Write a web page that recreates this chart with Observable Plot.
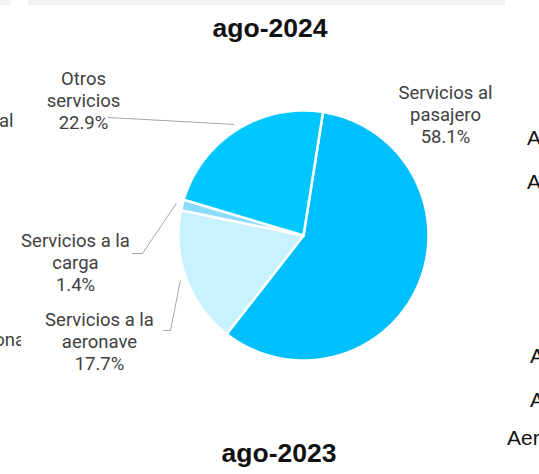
<!DOCTYPE html>
<html><head><meta charset="utf-8">
<script src="https://cdn.jsdelivr.net/npm/d3@7"></script>
<script src="https://cdn.jsdelivr.net/npm/@observablehq/plot@0.6"></script>
<style>
html,body{margin:0;padding:0;background:#fff;}
#page{position:relative;width:539px;height:474px;overflow:hidden;font-family:Roboto,sans-serif;}
#page svg{position:absolute;left:0;top:0;}
.abs{position:absolute;white-space:nowrap;}
.title{font-family:"Liberation Sans",Arial,sans-serif;font-weight:bold;color:#111;line-height:1;transform:translateX(-50%);}
.frag{font-size:18.5px;line-height:22px;color:#404040;}
.fragA{font-family:"Liberation Sans",Arial,sans-serif;font-size:21px;line-height:22px;color:#111;}
.bar{position:absolute;top:0;height:5px;background:#f2f2f2;}
</style></head><body><div id="page"></div>
<script>
// ---- data ----
const categories = ["Servicios al pasajero", "Servicios a la aeronave", "Servicios a la carga", "Otros servicios"];
const labelNames = ["Servicios al\npasajero", "Servicios a la\naeronave", "Servicios a la\ncarga", "Otros\nservicios"];
const shares = [58.1, 17.7, 1.4, 22.9];
const colors = ["#00BFFF", "#C8F2FF", "#8ADCFF", "#00C8FF"];
const chartTitle = "ago-2024";
const nextChartTitle = "ago-2023";

// ---- layout (pixels) ----
const W = 539, H = 474;
const cx = 303, cy = 235, R = 125;
const startDeg = 9;
const labelPx = {
  "Servicios al pasajero": [445, 113],
  "Servicios a la aeronave": [99, 340],
  "Servicios a la carga": [75, 261],
  "Otros servicios": [83, 99]
};
const leaderPx = {
  "Servicios a la aeronave": [[170, 330], [163, 330]],
  "Servicios a la carga": [[142, 253], [132, 253]],
  "Otros servicios": [[108, 117]]
};
const ux = px => (px - cx) / R;
const uy = py => (cy - py) / R;

const rows = categories.map((c, i) => ({name: c, label: labelNames[i], share: shares[i]}));
const a0 = startDeg * Math.PI / 180;
const arcs = d3.pie().sort(null).value(d => d.share).startAngle(a0).endAngle(a0 + 2 * Math.PI)(rows);

const polys = [];
for (const a of arcs) {
  const name = a.data.name;
  polys.push({name, x: 0, y: 0});
  const n = Math.max(2, Math.ceil((a.endAngle - a.startAngle) / 0.01));
  for (let k = 0; k <= n; k++) {
    const t = a.startAngle + (a.endAngle - a.startAngle) * k / n;
    polys.push({name, x: Math.sin(t), y: Math.cos(t)});
  }
}

const leaders = [];
for (const a of arcs) {
  const name = a.data.name;
  if (!leaderPx[name]) continue;
  const m = (a.startAngle + a.endAngle) / 2;
  leaders.push({name, x: 1.05 * Math.sin(m), y: 1.05 * Math.cos(m)});
  for (const [px, py] of leaderPx[name]) leaders.push({name, x: ux(px), y: uy(py)});
}

const labels = arcs.map(a => ({
  text: `${a.data.label}\n${a.data.share.toFixed(1)}%`,
  x: ux(labelPx[a.data.name][0]),
  y: uy(labelPx[a.data.name][1])
}));

const chart = Plot.plot({
  width: W, height: H,
  margin: 0,
  style: {fontFamily: "Roboto, sans-serif", background: "transparent", overflow: "visible"},
  x: {domain: [ux(0), ux(W)], axis: null},
  y: {domain: [uy(H), uy(0)], axis: null},
  color: {domain: categories, range: colors},
  marks: [
    Plot.line(leaders, {x: "x", y: "y", z: "name", stroke: "#a6a6a6", strokeWidth: 1}),
    Plot.line(polys, {x: "x", y: "y", z: "name", fill: "name", stroke: "#ffffff", strokeWidth: 2.5, strokeLinejoin: "round", curve: "linear-closed"}),
    Plot.text(labels, {x: "x", y: "y", text: "text", fontSize: 18.5, fill: "#404040", lineHeight: 22 / 18.5, lineAnchor: "middle", textAnchor: "middle"})
  ]
});

const page = document.getElementById("page");
page.appendChild(chart);

function addDiv(cls, text, style) {
  const d = document.createElement("div");
  d.className = cls;
  d.textContent = text;
  Object.assign(d.style, style);
  page.appendChild(d);
  return d;
}
addDiv("bar", "", {left: "0px", width: "11px"});
addDiv("bar", "", {left: "28px", width: "477px"});
addDiv("abs title", chartTitle, {left: "270px", top: "15px", fontSize: "26.5px"});
addDiv("abs title", nextChartTitle, {left: "279px", top: "440px", fontSize: "26.5px"});
// clipped fragments of neighbouring charts
addDiv("abs frag", "al", {left: "-1px", top: "110px"});
const clip = addDiv("abs frag", "", {left: "0px", top: "329px", width: "21px", height: "22px", overflow: "hidden"});
const inner = document.createElement("span");
inner.textContent = "ona";
inner.style.position = "absolute"; inner.style.right = "-4px"; inner.style.top = "0px";
clip.appendChild(inner);
addDiv("abs fragA", "A", {left: "527px", top: "127px"});
addDiv("abs fragA", "A", {left: "527px", top: "171px"});
addDiv("abs fragA", "A", {left: "530px", top: "345px"});
addDiv("abs fragA", "A", {left: "530px", top: "389px"});
addDiv("abs fragA", "Aer", {left: "507px", top: "427px"});
</script>
</body></html>
